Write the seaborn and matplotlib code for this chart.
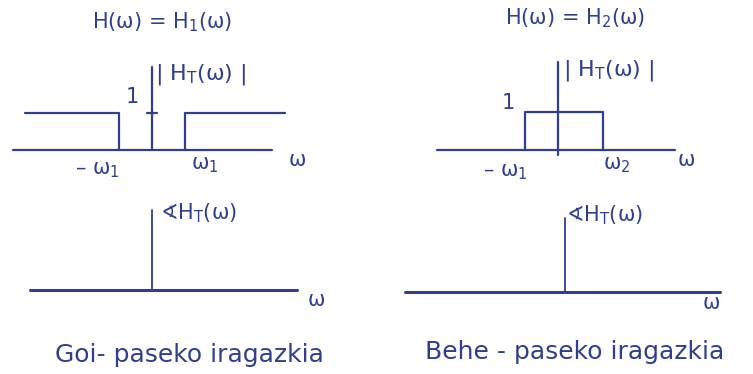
import matplotlib
matplotlib.use("Agg")
import matplotlib.pyplot as plt
import pandas as pd
import seaborn as sns

# Frequency breakpoints (in units of w1) and responses
hp_omega = [-3.85, -1.0, -1.0, 1.0, 1.0, 4.03]
hp_mag = [1.0, 1.0, 0.0, 0.0, 1.0, 1.0]

bp_omega = [-1.0, -1.0, 1.35, 1.35]
bp_mag = [0.0, 1.0, 1.0, 0.0]

hp_phase_omega = [-3.7, 4.4]
hp_phase = [0.0, 0.0]
bp_phase_omega = [-4.85, 4.7]
bp_phase = [0.0, 0.0]

titles = ["H(ω) = H$_1$(ω)", "H(ω) = H$_2$(ω)"]
mag_label = "| H$_\\mathrm{T}$(ω) |"
phase_label = "∢H$_\\mathrm{T}$(ω)"
captions = ["Goi- paseko iragazkia", "Behe - paseko iragazkia"]

INK = "#2f3f8c"

sns.set_theme(style="white")
plt.rcParams["font.family"] = ["DejaVu Sans"]
plt.rcParams["mathtext.fontset"] = "dejavusans"

fig = plt.figure(figsize=(7.53, 3.74), dpi=100)
W, H = 753.0, 374.0


def panel(x0, y0, x1, y1):
    # axes placed by pixel box (top-left origin)
    ax = fig.add_axes([x0 / W, 1 - y1 / H, (x1 - x0) / W, (y1 - y0) / H])
    ax.set_axis_off()
    return ax


def draw(ax, x, y, lw=1.6):
    df = pd.DataFrame({"w": x, "v": y})
    sns.lineplot(data=df, x="w", y="v", ax=ax, sort=False, estimator=None,
                 color=INK, lw=lw)


def txt(ax, x, y, s, size=15, ha="left"):
    ax.text(x, y, s, color=INK, fontsize=size, ha=ha, va="center")


# ---- top-left: high-pass magnitude
ax = panel(0, 0, 376, 190)
ax.set_xlim(-4.6, 6.79)
ax.set_ylim(-1.08, 4.05)
draw(ax, [-4.2, 3.64], [0, 0])
draw(ax, [0, 0], [0, 2.24])
draw(ax, [-0.15, 0.15], [1, 1])
draw(ax, hp_omega[:3], hp_mag[:3])
draw(ax, hp_omega[3:], hp_mag[3:])
txt(ax, 0.3, 3.46, titles[0], ha="center")
txt(ax, 0.1, 2.03, mag_label, size=16)
txt(ax, -0.6, 1.43, "1", ha="center")
txt(ax, -1.64, -0.54, "– ω$_1$", ha="center")
txt(ax, 1.6, -0.4, "ω$_1$", ha="center")
txt(ax, 4.4, -0.27, "ω", ha="center")

# ---- top-right: band-pass magnitude
ax = panel(376, 0, 753, 190)
ax.set_xlim(-5.52, 5.91)
ax.set_ylim(-1.05, 3.95)
draw(ax, [-3.67, 3.55], [0, 0])
draw(ax, [0, 0], [-0.13, 2.32])
draw(ax, bp_omega, bp_mag)
txt(ax, 0.5, 3.47, titles[1], ha="center")
txt(ax, 0.15, 2.1, mag_label, size=16)
txt(ax, -1.52, 1.24, "1", ha="center")
txt(ax, -1.6, -0.58, "– ω$_1$", ha="center")
txt(ax, 1.79, -0.39, "ω$_2$", ha="center")
txt(ax, 3.9, -0.26, "ω", ha="center")

# ---- bottom-left: high-pass phase
ax = panel(0, 190, 376, 374)
ax.set_xlim(-4.6, 6.79)
ax.set_ylim(-2.27, 2.7)
draw(ax, [0, 0], [0, 2.16], lw=1.3)
draw(ax, hp_phase_omega, hp_phase, lw=2.2)
txt(ax, 0.24, 2.08, phase_label)
txt(ax, 4.97, -0.27, "ω", ha="center")
txt(ax, 1.15, -1.76, captions[0], size=18, ha="center")

# ---- bottom-right: band-pass phase
ax = panel(376, 190, 753, 374)
ax.set_xlim(-5.73, 5.7)
ax.set_ylim(-2.22, 2.76)
draw(ax, [0, 0], [0, 2.0], lw=1.3)
draw(ax, bp_phase_omega, bp_phase, lw=2.2)
txt(ax, 0.03, 2.08, phase_label)
txt(ax, 4.45, -0.3, "ω", ha="center")
txt(ax, 0.3, -1.62, captions[1], size=18, ha="center")

fig.savefig("out.png", dpi=100, facecolor="white")
